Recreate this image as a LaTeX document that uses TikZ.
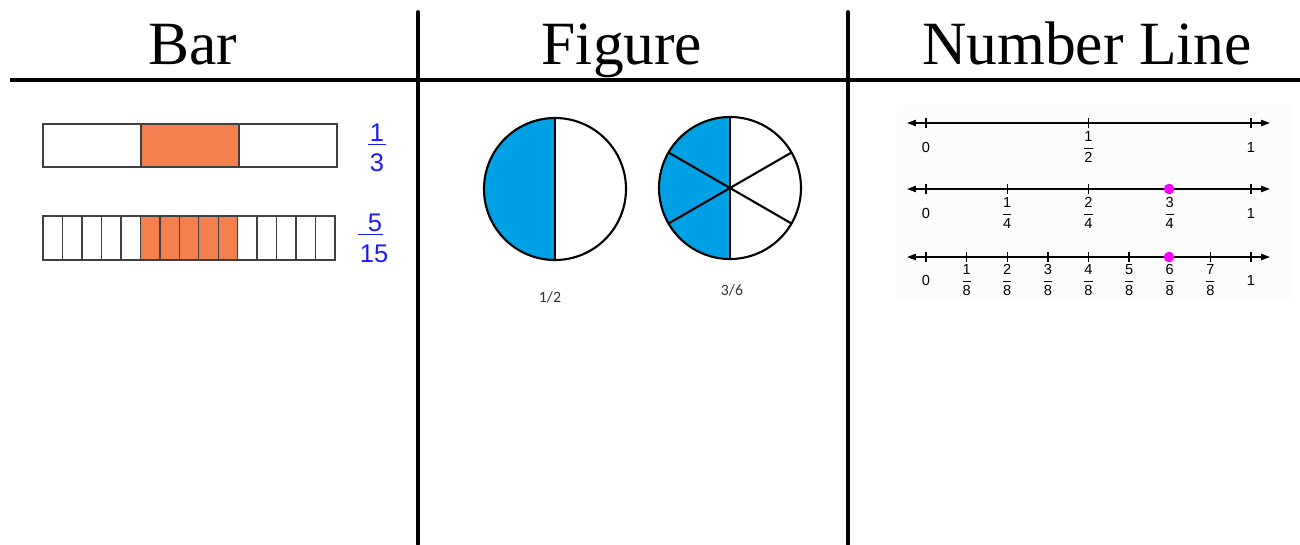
\documentclass[tikz,border=0pt]{standalone}
\usepackage{fontspec}
\setmainfont{Liberation Serif}
\setsansfont{Liberation Sans}
\newfontfamily\calibrifont{Carlito}
\usetikzlibrary{arrows.meta}

\definecolor{barorange}{HTML}{F47F4F}
\definecolor{pieblue}{HTML}{00A1E4}
\definecolor{fracblue}{HTML}{1A1AFF}
\definecolor{dotpink}{HTML}{FF00FF}

% stacked fraction for the number line labels
\newcommand{\nlfrac}[2]{$\displaystyle\frac{\hbox{#1}}{\hbox{#2}}$}

\begin{document}
\begin{tikzpicture}[x=0.02cm, y=-0.02cm,
  header/.style={font=\fontsize{35}{40}\selectfont, anchor=base},
  rule/.style={line width=2.2pt},
  cell/.style={draw=black!75, line width=0.8pt},
  shade/.style={fill=barorange},
  bluefrac/.style={font=\sffamily\fontsize{14.5}{16}\selectfont, text=fracblue,
    anchor=base, inner sep=0pt},
  fracbar/.style={draw=fracblue, line width=1.1pt},
  pie/.style={line width=1.2pt},
  pielabel/.style={font=\calibrifont\fontsize{9}{10}\selectfont, text=black!80},
  numline/.style={line width=0.85pt,
    {Triangle[length=5pt,width=3.5pt]}-{Triangle[length=5pt,width=3.5pt]}},
  tick/.style={line width=0.85pt},
  nllabel/.style={font=\sffamily\fontsize{8.3}{9}\selectfont, inner sep=0pt},
  dot/.style={circle, fill=dotpink, inner sep=0pt, minimum size=0.21cm},
]
  \useasboundingbox (0,0) rectangle (1300,544);

  % Table rules and headers
  \draw[rule] (10,80) -- (1300,80);
  \draw[rule, line cap=round] (418,12) -- (418,544);
  \draw[rule, line cap=round] (848,12) -- (848,544);
  \node[header] (hbar) at (193,65) {Bar};
  \node[header] (hfig) at (622,65) {Figure};
  \node[header] (hnum) at (1087,65) {Number Line};

  % Bar: thirds
  \fill[shade] (141,124) rectangle (239,167);
  \draw[cell] (43,124) rectangle (337,167);
  \foreach \x in {141,239} \draw[cell] (\x,124) -- (\x,167);

  % Bar: fifteenths
  \fill[shade] (140.4,216) rectangle (237.8,260);
  \draw[cell] (43,216) rectangle (335,260);
  \foreach \i in {1,...,14} \draw[cell] ({43+19.47*\i},216) -- ++(0,44);

  % Blue fractions
  \node[bluefrac] (numA) at (377,141) {1};
  \draw[fracbar] (368,144.5) -- (386,144.5);
  \node[bluefrac] (denA) at (377,171) {3};
  \node[bluefrac] (numB) at (375,231) {5};
  \draw[fracbar] (358,234.5) -- (383,234.5);
  \node[bluefrac] (denB) at (374,262) {15};

  % Figure: halves
  \coordinate (pieA) at (555,189);
  \fill[pieblue] (pieA) ++(0,-71) arc[start angle=270, end angle=90, radius=71] -- cycle;
  \draw[pie] (pieA) circle[radius=71];
  \draw[pie] (pieA) ++(0,-71) -- ++(0,142);
  \node[pielabel] (labA) at (550,297) {1/2};

  % Figure: sixths
  \coordinate (pieB) at (730,188);
  \fill[pieblue] (pieB) ++(0,-71) arc[start angle=270, end angle=90, radius=71] -- cycle;
  \draw[pie] (pieB) circle[radius=71];
  \foreach \a in {90,150,210,270,330,30} \draw[pie] (pieB) -- ++(\a:71);
  \node[pielabel] (labB) at (732,290) {3/6};

  % Number lines
  \fill[black!1] (897,105) rectangle (1292,300);
  \foreach \y/\n/\ly in {123/2/147, 189/4/213, 257/8/280} {
    \draw[numline] (907,\y) -- (1270,\y);
    \foreach \k in {0,...,\n} \draw[tick] ({926+325*\k/\n},\y-5) -- ++(0,10);
    \node[nllabel] at (926,\ly) {0};
    \node[nllabel] at (1251,\ly) {1};
    \foreach \k in {1,...,\n} {
      \ifnum\k<\n \node[nllabel] at ({926+325*\k/\n},\ly) {\nlfrac{\k}{\n}}; \fi
    }
  }
  \node[dot] (dotA) at (1169,189) {};
  \node[dot] (dotB) at (1169,257) {};
\end{tikzpicture}
\end{document}
